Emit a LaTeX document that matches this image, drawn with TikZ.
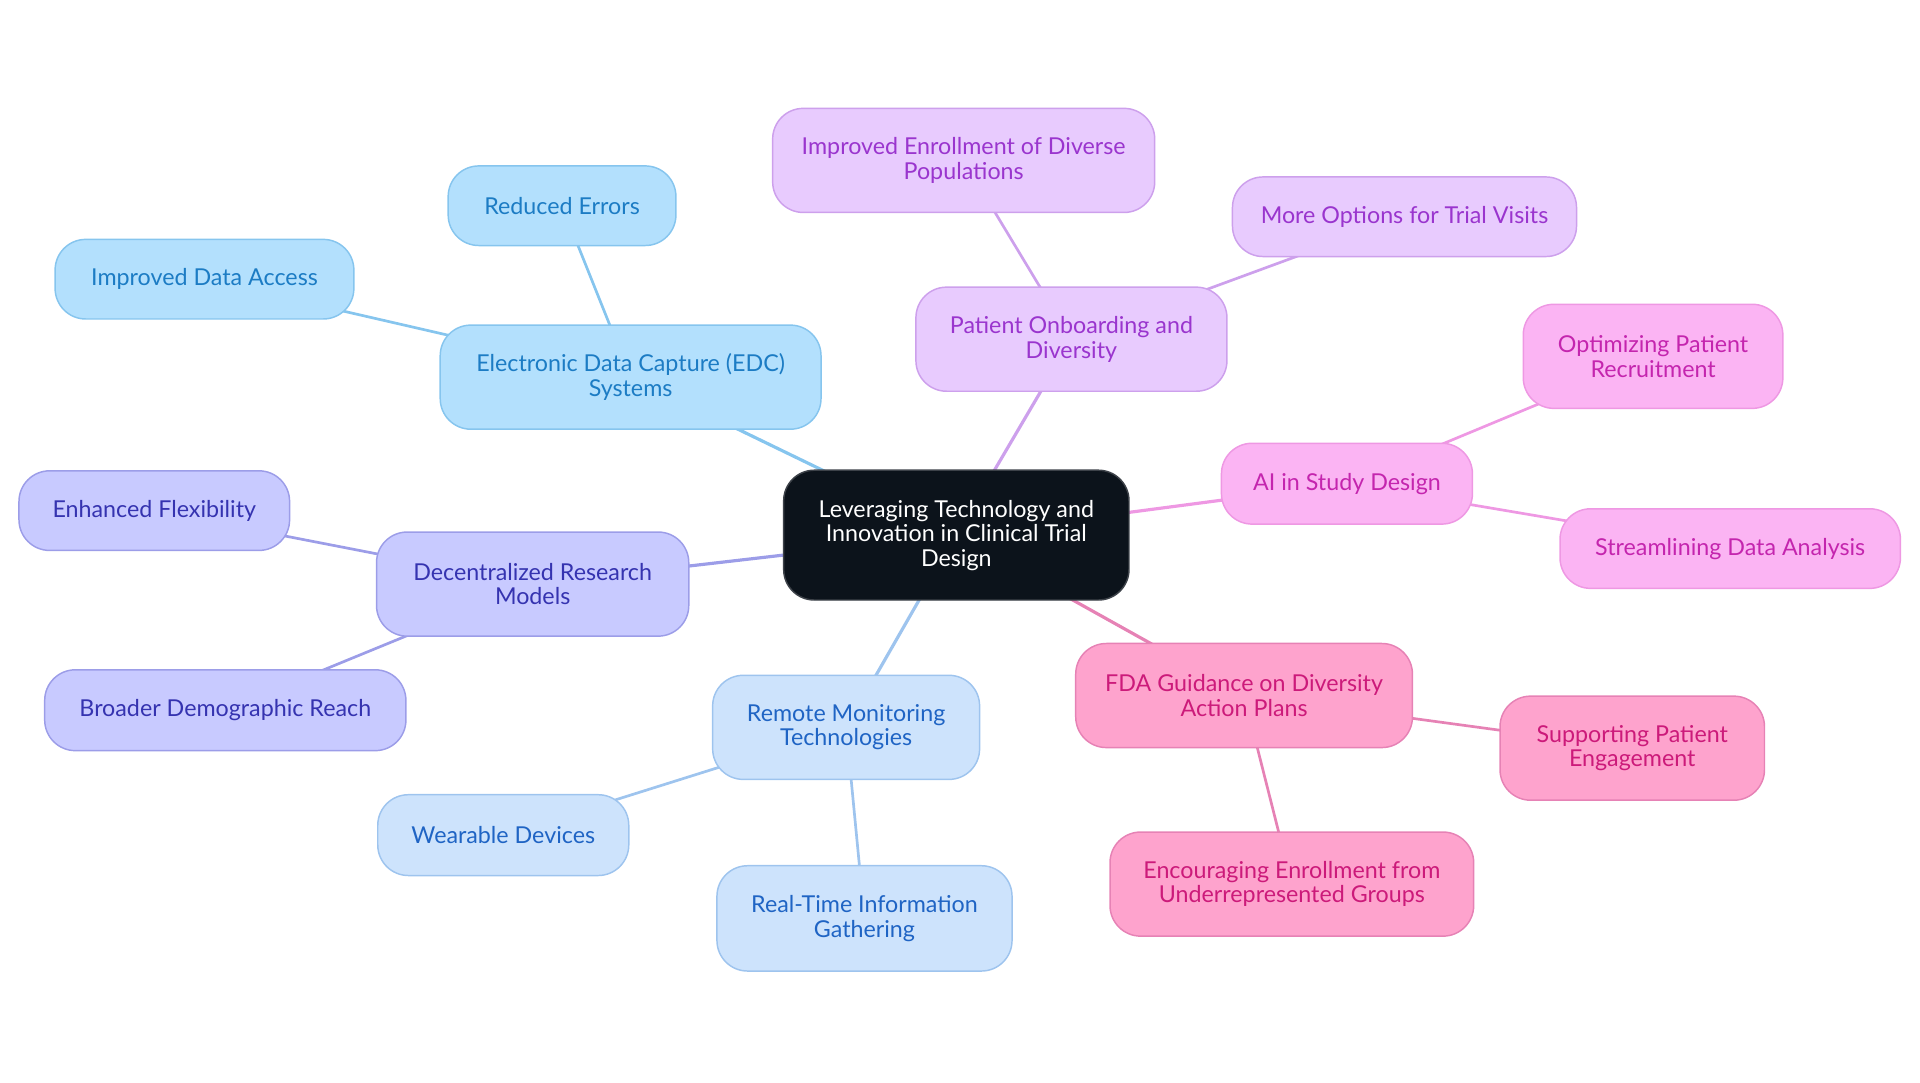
\documentclass[tikz,border=0pt]{standalone}
\usepackage{fontspec}
\setmainfont{Lato}
\usetikzlibrary{backgrounds}
\definecolor{cdark}{HTML}{0C131B}
\definecolor{bFill}{HTML}{B3E0FD}\definecolor{bLine}{HTML}{86C5EE}\definecolor{bText}{HTML}{1C7CC4}
\definecolor{lFill}{HTML}{C8CAFF}\definecolor{lLine}{HTML}{9C9DE8}\definecolor{lText}{HTML}{3533B0}
\definecolor{sFill}{HTML}{CDE3FC}\definecolor{sLine}{HTML}{9EC4EE}\definecolor{sText}{HTML}{1F64C4}
\definecolor{pFill}{HTML}{FEA3CD}\definecolor{pLine}{HTML}{E682B5}\definecolor{pText}{HTML}{CC1A7A}
\definecolor{mFill}{HTML}{FBB4F3}\definecolor{mLine}{HTML}{EE98E3}\definecolor{mText}{HTML}{C425AE}
\definecolor{vFill}{HTML}{E8CBFE}\definecolor{vLine}{HTML}{CDA0EC}\definecolor{vText}{HTML}{9A35CE}
\tikzset{
  box/.style={rounded corners=25pt, line width=1.2pt, align=center, inner sep=0pt,
    font=\fontsize{19}{20}\selectfont},
  sz/.style 2 args={minimum width=#1pt, minimum height=#2pt},
  bluebox/.style={box, fill=bFill, draw=bLine, text=bText},
  lavbox/.style={box, fill=lFill, draw=lLine, text=lText},
  skybox/.style={box, fill=sFill, draw=sLine, text=sText},
  pinkbox/.style={box, fill=pFill, draw=pLine, text=pText},
  magbox/.style={box, fill=mFill, draw=mLine, text=mText},
  violbox/.style={box, fill=vFill, draw=vLine, text=vText},
  lvone/.style={line width=2.6pt},
  lvtwo/.style={line width=2.2pt},
}
\begin{document}
\begin{tikzpicture}[x=1pt,y=-1pt]
\useasboundingbox (0,0) rectangle (1568,884.4);
% center
\node[box, fill=cdark, draw=cdark!80!white, text=white, sz={282}{106}] (c) at (781,437)
  {Leveraging Technology and\\Innovation in Clinical Trial\\Design};
% EDC branch
\node[bluebox, sz={311}{85}] (edc) at (515,308) {Electronic Data Capture (EDC)\\Systems};
\node[bluebox, sz={186}{65}] (red) at (459,168) {Reduced Errors};
\node[bluebox, sz={244}{65}] (ida) at (167,228) {Improved Data Access};
% Decentralized
\node[lavbox, sz={255}{85}] (dec) at (435,477) {Decentralized Research\\Models};
\node[lavbox, sz={221}{65}] (enh) at (126,417) {Enhanced Flexibility};
\node[lavbox, sz={295}{66}] (bro) at (184,580) {Broader Demographic Reach};
% Remote
\node[skybox, sz={218}{85}] (rem) at (691,594) {Remote Monitoring\\Technologies};
\node[skybox, sz={205}{66}] (wea) at (411,682) {Wearable Devices};
\node[skybox, sz={241}{86}] (rti) at (706,750) {Real-Time Information\\Gathering};
% FDA
\node[pinkbox, sz={275}{85}] (fda) at (1016,568) {FDA Guidance on Diversity\\Action Plans};
\node[pinkbox, sz={216}{85}] (spe) at (1333,611) {Supporting Patient\\Engagement};
\node[pinkbox, sz={297}{85}] (enc) at (1055,722) {Encouraging Enrollment from\\Underrepresented Groups};
% AI
\node[magbox, sz={205}{66}] (ai) at (1100,395) {AI in Study Design};
\node[magbox, sz={212}{85}] (opt) at (1350,291) {Optimizing Patient\\Recruitment};
\node[magbox, sz={278}{65}] (str) at (1413,448) {Streamlining Data Analysis};
% Patient onboarding
\node[violbox, sz={254}{85}] (pod) at (875,277) {Patient Onboarding and\\Diversity};
\node[violbox, sz={312}{85}] (ied) at (787,131) {Improved Enrollment of Diverse\\Populations};
\node[violbox, sz={281}{65}] (mot) at (1147,177) {More Options for Trial Visits};
\begin{scope}[on background layer]
  \draw[lvone, bLine] (c.center) -- (edc.center);
  \draw[lvone, lLine] (c.center) -- (dec.center);
  \draw[lvone, sLine] (c.center) -- (rem.center);
  \draw[lvone, pLine] (c.center) -- (fda.center);
  \draw[lvone, mLine] (c.center) -- (ai.center);
  \draw[lvone, vLine] (c.center) -- (pod.center);
  \draw[lvtwo, bLine] (edc.center) -- (red.center);
  \draw[lvtwo, bLine] (edc.center) -- (ida.center);
  \draw[lvtwo, lLine] (dec.center) -- (enh.center);
  \draw[lvtwo, lLine] (dec.center) -- (bro.center);
  \draw[lvtwo, sLine] (rem.center) -- (wea.center);
  \draw[lvtwo, sLine] (rem.center) -- (rti.center);
  \draw[lvtwo, pLine] (fda.center) -- (spe.center);
  \draw[lvtwo, pLine] (fda.center) -- (enc.center);
  \draw[lvtwo, mLine] (ai.center) -- (opt.center);
  \draw[lvtwo, mLine] (ai.center) -- (str.center);
  \draw[lvtwo, vLine] (pod.center) -- (ied.center);
  \draw[lvtwo, vLine] (pod.center) -- (mot.center);
\end{scope}
\end{tikzpicture}
\end{document}
